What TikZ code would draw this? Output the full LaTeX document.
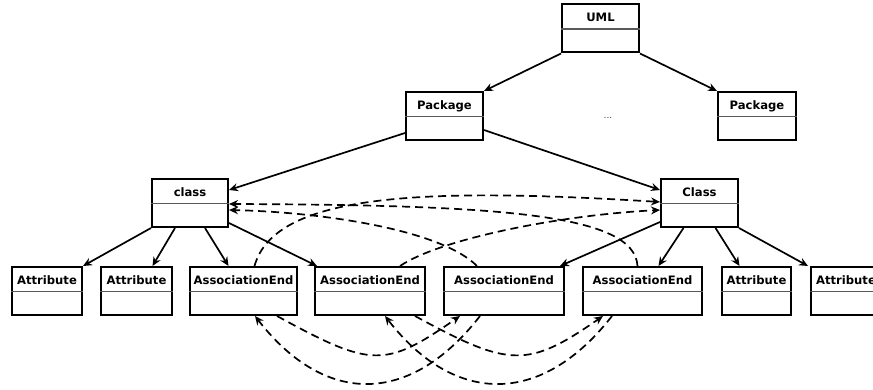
\documentclass[tikz,border=0pt]{standalone}
\usepackage{fontspec}
\setmainfont{DejaVu Sans}
\usepackage{tikz}
\usetikzlibrary{arrows.meta}

\begin{document}
\begin{tikzpicture}[x=1pt, y=-1pt,
  umlclass/.style={draw, line width=2pt, minimum width=#1, inner ysep=0pt,
    text height=17.5pt, text depth=30.5pt, font=\fontsize{11.6}{13}\selectfont\bfseries},
  owns/.style={line width=1.7pt, -{Stealth[length=9pt, width=8pt, inset=3pt]}},
  refers/.style={owns, dash pattern=on 8pt off 5pt}]
\useasboundingbox (0,0) rectangle (873,390);
\clip (0,0) rectangle (873,390);
% top levels
\node[umlclass=77pt] (uml) at (600.5,28.5) {UML};
\node[umlclass=77pt] (pkgL) at (444.5,116) {Package};
\node[umlclass=78pt] (pkgR) at (757,116) {Package};
\node[font=\fontsize{9}{10}\selectfont, text=black!75] (dots) at (608,118) {...};
\node[umlclass=76pt] (clsL) at (190,203) {class};
\node[umlclass=77pt] (clsR) at (699.5,203) {Class};
% members
\node[umlclass=70pt] (attrA) at (47,291) {Attribute};
\node[umlclass=71pt] (attrB) at (136.5,291) {Attribute};
\node[umlclass=105pt] (aeA) at (243.5,291) {AssociationEnd};
\node[umlclass=110pt] (aeB) at (370,291) {AssociationEnd};
\node[umlclass=120pt] (aeC) at (504,291) {AssociationEnd};
\node[umlclass=119pt] (aeD) at (642.5,291) {AssociationEnd};
\node[umlclass=69pt] (attrC) at (756.5,291) {Attribute};
\node[umlclass=70pt] (attrD) at (846,291) {Attribute};
\foreach \n in {uml,pkgL,pkgR,clsL,clsR,attrA,attrB,aeA,aeB,aeC,aeD,attrC,attrD}
  \draw[line width=1.1pt, black!65] ([yshift=-25.5pt]\n.north west) -- ([yshift=-25.5pt]\n.north east);
% containment
\draw[owns] (uml.south west) -- (pkgL.north east);
\draw[owns] (uml.south east) -- (pkgR.north west);
\draw[owns] ([yshift=-17pt]pkgL.west) -- ([yshift=13pt]clsL.east);
\draw[owns] ([yshift=-14pt]pkgL.east) -- ([yshift=13pt]clsR.west);
\draw[owns] (clsL.south west) -- (attrA.north east);
\draw[owns] ([xshift=-15pt]clsL.south) -- ([xshift=16pt]attrB.north);
\draw[owns] ([xshift=15pt]clsL.south) -- ([xshift=-15pt]aeA.north);
\draw[owns] ([yshift=-20pt]clsL.east) -- ([xshift=-53pt]aeB.north);
\draw[owns] ([yshift=-19pt]clsR.west) -- ([xshift=56pt]aeC.north);
\draw[owns] ([xshift=-16pt]clsR.south) -- ([xshift=16pt]aeD.north);
\draw[owns] ([xshift=16pt]clsR.south) -- ([xshift=-17pt]attrC.north);
\draw[owns] (clsR.south east) -- ([xshift=-38pt]attrD.north);
% association ends to their types
\draw[refers] ([xshift=11pt]aeA.north) .. controls +(20,-72) and +(-240,-15) .. ([yshift=1pt]clsR.west);
\draw[refers] ([xshift=30pt]aeB.north) .. controls +(40,-27) and +(-100,5) .. ([yshift=-7pt]clsR.west);
\draw[refers] ([xshift=-27pt]aeC.north) .. controls +(-37,-37) and +(90,2) .. ([yshift=-7pt]clsL.east);
\draw[refers] ([xshift=-5pt]aeD.north) .. controls +(-3,-52) and +(272,1) .. ([yshift=-1pt]clsL.east);
% opposite ends
\draw[refers] ([xshift=33.5pt]aeA.south) .. controls +(95,52) and +(-75,52) .. ([xshift=-44pt]aeC.south);
\draw[refers] ([xshift=-24pt]aeC.south) .. controls +(-70,90) and +(70,90) .. ([xshift=11.5pt]aeA.south);
\draw[refers] ([xshift=45pt]aeB.south) .. controls +(95,52) and +(-75,52) .. ([xshift=-39.5pt]aeD.south);
\draw[refers] ([xshift=-30.5pt]aeD.south) .. controls +(-70,90) and +(70,90) .. ([xshift=15pt]aeB.south);
\end{tikzpicture}
\end{document}
